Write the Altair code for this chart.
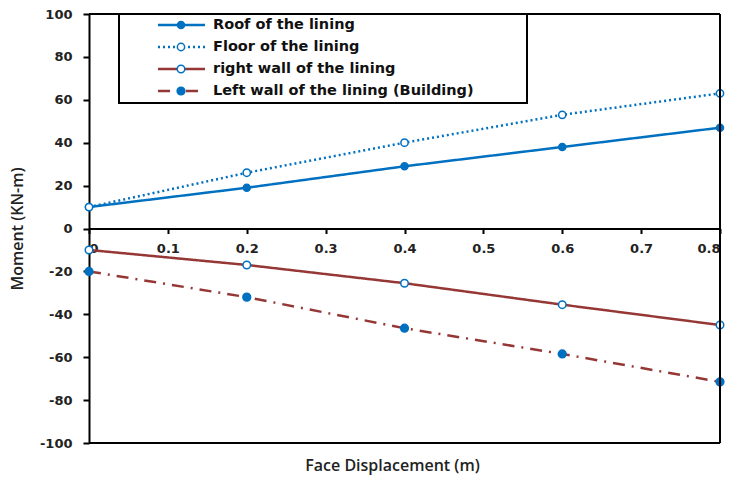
import altair as alt
import pandas as pd

series = ["Roof of the lining", "Floor of the lining", "right wall of the lining",
          "Left wall of the lining (Building)"]
x_disp = [0.0, 0.2, 0.4, 0.6, 0.8]
roof = [10, 19, 29, 38, 47]
floor = [10, 26, 40, 53, 63]
right_wall = [-10, -17, -25.5, -35.5, -45]
left_wall = [-20, -32, -46.5, -58.5, -71.5]
y_ticks = [-100, -80, -60, -40, -20, 0, 20, 40, 60, 80, 100]
x_ticks = [0, 0.1, 0.2, 0.3, 0.4, 0.5, 0.6, 0.7, 0.8]

BLUE = "#0070C0"
RED = "#953735"
line_colors = [BLUE, BLUE, RED, RED]
dashes = [[1, 0], [2, 3], [1, 0], [12, 7, 2, 7]]
fills = [BLUE, "white", "white", BLUE]
sizes = [50, 60, 60, 80]

rows = []
for name, vals in zip(series, [roof, floor, right_wall, left_wall]):
    for xv, yv in zip(x_disp, vals):
        rows.append({"series": name, "x": xv, "y": yv})
df = pd.DataFrame(rows)

W, H = 631, 429
FONT = "DejaVu Sans"
TFONT = "Open Sans"

color_scale = alt.Scale(domain=series, range=line_colors)
dash_scale = alt.Scale(domain=series, range=dashes)
fill_scale = alt.Scale(domain=series, range=fills)
size_scale = alt.Scale(domain=series, range=sizes)

xenc = alt.X("x:Q", scale=alt.Scale(domain=[0, 0.8], nice=False),
             axis=alt.Axis(values=x_ticks, offset=-214.5, grid=False,
                           labelExpr="datum.value == 0 ? '0' : format(datum.value, '.1f')",
                           labelFont=FONT, labelFontWeight="bold", labelFontSize=13,
                           labelColor="#222", tickSize=5, tickWidth=2, tickColor="black",
                           domainColor="black", domainWidth=2, labelPadding=9,
                           title="Face Displacement (m)", titleFont=TFONT,
                           titleFontSize=16, titleFontWeight=600, titleColor="#222",
                           titleX=303, titleY=237, titleBaseline="middle"))
yenc = alt.Y("y:Q", scale=alt.Scale(domain=[-100, 100], nice=False),
             axis=alt.Axis(values=y_ticks, grid=False, labelFont=FONT,
                           labelExpr="(datum.value < 0 ? '-' : '') + abs(datum.value)",
                           labelFontWeight="bold", labelFontSize=13, labelColor="#222",
                           tickSize=6, tickWidth=2, tickColor="black", domainColor="black",
                           domainWidth=2, labelPadding=11,
                           title="Moment (KN-m)", titleFont=TFONT, titleFontSize=16,
                           titleFontWeight=600, titleColor="#222", titleX=-72,
                           titleAngle=270, titleAlign="center", titleBaseline="middle"))

lines = alt.Chart(df).mark_line(strokeWidth=2.5).encode(
    x=xenc, y=yenc,
    color=alt.Color("series:N", scale=color_scale, legend=None),
    strokeDash=alt.StrokeDash("series:N", scale=dash_scale, legend=None),
    detail="series:N",
)
points = alt.Chart(df).mark_point(filled=False, stroke=BLUE, strokeWidth=1.5, opacity=1).encode(
    x="x:Q", y="y:Q",
    fill=alt.Fill("series:N", scale=fill_scale, legend=None),
    size=alt.Size("series:N", scale=size_scale, legend=None),
    shape=alt.value("circle"),
)

frame_df = pd.DataFrame({"k": [0]})
bottom = alt.Chart(frame_df).mark_rule(color="black", strokeWidth=2).encode(
    x=alt.value(0), x2=alt.value(W), y=alt.value(H))
right = alt.Chart(frame_df).mark_rule(color="black", strokeWidth=2).encode(
    x=alt.value(W), y=alt.value(0), y2=alt.value(H))
top = alt.Chart(frame_df).mark_rule(color="black", strokeWidth=2).encode(
    x=alt.value(0), x2=alt.value(W), y=alt.value(0))

main = alt.layer(lines, points, bottom, right, top)

# legend
leg_df = pd.DataFrame({"series": series})
ly = alt.Y("series:N", scale=alt.Scale(type="point", domain=series, range=[11, 77], padding=0),
           axis=None)
box = alt.Chart(frame_df).mark_rect(fill="white", stroke="black", strokeWidth=2).encode(
    x=alt.value(30), x2=alt.value(438), y=alt.value(0), y2=alt.value(89))
leg_lines = alt.Chart(leg_df).mark_rule(strokeWidth=2.5).encode(
    x=alt.value(69), x2=alt.value(116), y=ly,
    color=alt.Color("series:N", scale=color_scale, legend=None),
    strokeDash=alt.StrokeDash("series:N", scale=dash_scale, legend=None),
)
leg_pts = alt.Chart(leg_df).mark_point(filled=False, stroke=BLUE, strokeWidth=1.5, opacity=1).encode(
    x=alt.value(92), y=ly,
    fill=alt.Fill("series:N", scale=fill_scale, legend=None),
    size=alt.Size("series:N", scale=size_scale, legend=None),
    shape=alt.value("circle"),
)
leg_text = alt.Chart(leg_df).mark_text(align="left", baseline="middle", font=FONT,
                                       fontSize=14.5, fontWeight="bold", color="#111").encode(
    x=alt.value(124), y=ly, text="series:N")
legend = alt.layer(box, leg_lines, leg_pts, leg_text)

chart = alt.layer(main, legend).resolve_scale(y="independent").properties(
    width=W, height=H,
    autosize=alt.AutoSizeParams(type="none"),
    padding={"left": 89, "top": 14, "right": 12, "bottom": 36},
).configure_view(stroke=None).configure(background="white")

chart.save("out.html", embed_options={"renderer": "svg", "actions": False})
